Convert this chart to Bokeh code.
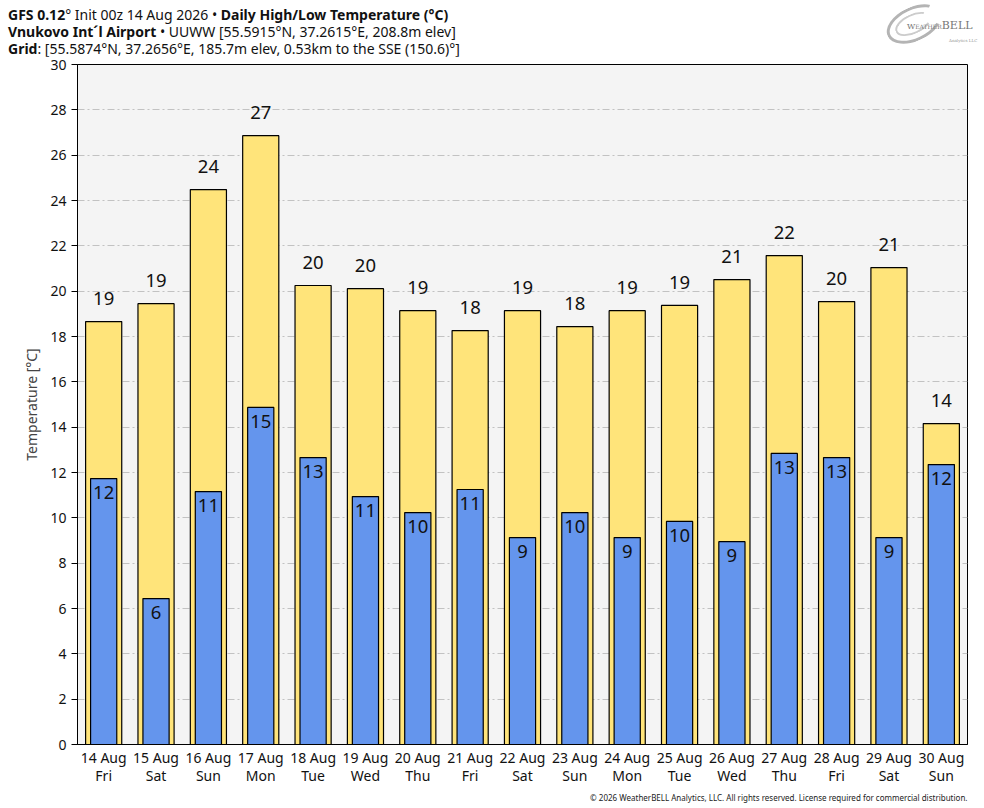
import numpy as np

from bokeh.embed import file_html
from bokeh.resources import INLINE
from bokeh.layouts import column
from bokeh.models import ColumnDataSource, Div, Title, SingleIntervalTicker, Range1d
from bokeh.plotting import figure
from bokeh.core.properties import value

# get data

dates = ["14 Aug", "15 Aug", "16 Aug", "17 Aug", "18 Aug", "19 Aug", "20 Aug", "21 Aug",
         "22 Aug", "23 Aug", "24 Aug", "25 Aug", "26 Aug", "27 Aug", "28 Aug", "29 Aug", "30 Aug"]
weekdays = ["Fri", "Sat", "Sun", "Mon", "Tue", "Wed", "Thu", "Fri",
            "Sat", "Sun", "Mon", "Tue", "Wed", "Thu", "Fri", "Sat", "Sun"]
highs = [18.66, 19.45, 24.48, 26.86, 20.25, 20.11, 19.14, 18.26,
         19.14, 18.44, 19.14, 19.37, 20.51, 21.57, 19.54, 21.04, 14.16]
lows = [11.73, 6.44, 11.16, 14.87, 12.66, 10.94, 10.23, 11.25,
        9.13, 10.23, 9.13, 9.84, 8.95, 12.84, 12.66, 9.13, 12.35]

cats = [d + "\n" + w for d, w in zip(dates, weekdays)]

source = ColumnDataSource(data=dict(
    day=cats, high=highs, low=lows,
    high_lbl=[str(int(round(v))) for v in highs],
    low_lbl=[str(int(round(v))) for v in lows],
))

FONT = "Noto Sans"

header = Div(width=968, height=46, text="""
<div style="position:relative;width:968px;height:46px;font-family:'Noto Sans';font-size:14px;line-height:17px;color:#111;margin-top:1px;">
<div style="padding-left:3px;white-space:nowrap;">
<b>GFS 0.12</b>&deg; Init 00z 14 Aug 2026 &bull; <b>Daily High/Low Temperature (&deg;C)</b><br>
<b>Vnukovo Int&acute;l Airport</b> &bull; UUWW [55.5915&deg;N, 37.2615&deg;E, 208.8m elev]<br>
<b>Grid</b>: [55.5874&deg;N, 37.2656&deg;E, 185.7m elev, 0.53km to the SSE (150.6)&deg;]
</div>
<div style="position:absolute;right:0px;top:-1px;width:90px;height:40px;">
  <div style="position:absolute;left:2px;top:2px;width:58px;height:34px;border-radius:50%;border:3px solid #b4b4b4;border-right-color:transparent;transform:rotate(-25deg);"></div>
  <div style="position:absolute;left:11px;top:9px;width:38px;height:20px;border-radius:50%;border:2px solid #cccccc;border-right-color:transparent;transform:rotate(-25deg);"></div>
  <div style="position:absolute;left:24px;top:12px;font-family:'DejaVu Serif';font-size:8px;color:#777;white-space:nowrap;">W<span style="font-size:6px;">EATHER</span><span style="font-size:11px;">BELL</span></div>
  <div style="position:absolute;left:66px;top:27px;font-family:'DejaVu Serif';font-size:4px;color:#999;white-space:nowrap;">Analytics LLC</div>
</div>
</div>
""")

p = figure(x_range=cats, y_range=Range1d(0, 30), frame_width=890, frame_height=680,
           output_backend="svg", toolbar_location=None, tools="",
           min_border_top=8, min_border_right=10, min_border_left=77, min_border_bottom=40,
           background_fill_color="#f4f4f4", outline_line_color="black")

p.vbar(x="day", top="high", bottom=0, width=0.69, source=source,
       fill_color="#ffe47a", line_color="black", line_width=1.2)
p.vbar(x="day", top="low", bottom=0, width=0.5, source=source,
       fill_color="#6495ed", line_color="black", line_width=1.2)

p.text(x="day", y="high", text="high_lbl", source=source, text_align="center",
       text_baseline="alphabetic", y_offset=-23, text_font=value(FONT),
       text_font_size="18.5px", text_color="#111111")
p.text(x="day", y="low", text="low_lbl", source=source, text_align="center",
       text_baseline="alphabetic", y_offset=14, text_font=value(FONT),
       text_font_size="18.5px", text_color="#111111")

p.xgrid.grid_line_color = None
p.ygrid.grid_line_color = "#c2c2c2"
p.ygrid.grid_line_dash = "7 3 2 3"
p.ygrid.grid_line_width = 1

p.yaxis.ticker = SingleIntervalTicker(interval=2)
p.yaxis.minor_tick_line_color = None
p.yaxis.major_tick_in = 0
p.yaxis.major_tick_out = 6
p.yaxis.axis_label = "Temperature [°C]"
p.yaxis.axis_label_text_font = FONT
p.yaxis.axis_label_text_font_style = "normal"
p.yaxis.axis_label_text_font_size = "14px"
p.yaxis.axis_label_standoff = 6

p.xaxis.major_tick_line_color = None
p.xaxis.minor_tick_line_color = None
p.xaxis.major_tick_in = 0
p.xaxis.major_tick_out = 0
p.xaxis.major_label_standoff = 3
p.xaxis.major_label_text_line_height = 0.95

for ax in (p.xaxis, p.yaxis):
    ax.major_label_text_font = FONT
    ax.major_label_text_font_size = "14px"
    ax.major_label_text_color = "#111111"
    ax.axis_line_color = "black"

p.add_layout(Title(text="© 2026 WeatherBELL Analytics, LLC. All rights reserved. License required for commercial distribution.",
                   align="right", text_font=FONT, text_font_size="8px", text_font_style="normal",
                   text_color="#222222", standoff=4), "below")

layout = column(header, p, spacing=0)

open("out.html", "w").write(file_html(layout, INLINE))
